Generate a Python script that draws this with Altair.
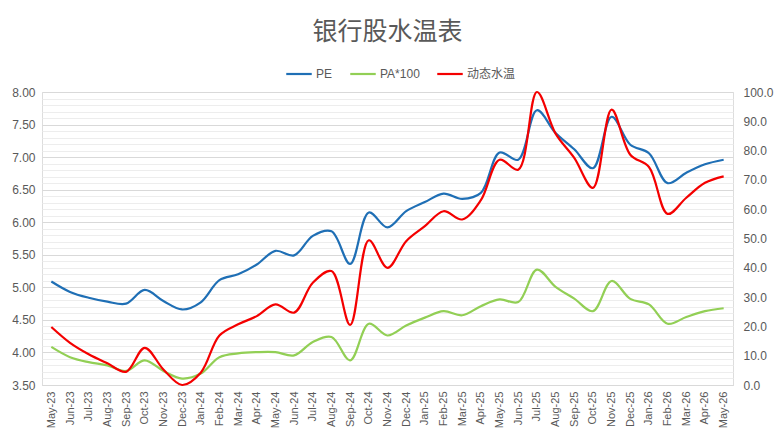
import altair as alt
import pandas as pd

months = ["May-23", "Jun-23", "Jul-23", "Aug-23", "Sep-23", "Oct-23", "Nov-23", "Dec-23",
          "Jan-24", "Feb-24", "Mar-24", "Apr-24", "May-24", "Jun-24", "Jul-24", "Aug-24",
          "Sep-24", "Oct-24", "Nov-24", "Dec-24", "Jan-25", "Feb-25", "Mar-25", "Apr-25",
          "May-25", "Jun-25", "Jul-25", "Aug-25", "Sep-25", "Oct-25", "Nov-25", "Dec-25",
          "Jan-26", "Feb-26", "Mar-26", "Apr-26", "May-26"]

pe = [5.09, 4.93, 4.84, 4.78, 4.75, 4.96, 4.79, 4.66,
      4.77, 5.11, 5.20, 5.35, 5.56, 5.49, 5.79, 5.86,
      5.36, 6.15, 5.92, 6.17, 6.31, 6.44, 6.36, 6.45,
      7.07, 6.96, 7.72, 7.37, 7.12, 6.83, 7.62, 7.19,
      7.06, 6.60, 6.76, 6.89, 6.96]

pa100 = [13.0, 9.5, 7.8, 6.7, 4.8, 8.4, 4.8, 2.2,
         3.9, 9.5, 10.8, 11.2, 11.2, 10.1, 14.7, 16.4,
         8.4, 20.9, 16.9, 20.3, 23.0, 25.2, 23.8, 26.9,
         29.2, 28.3, 39.4, 33.5, 29.5, 25.2, 35.5, 29.4,
         27.5, 20.9, 23.2, 25.2, 26.2]

water = [19.8, 14.4, 10.5, 7.4, 4.5, 12.7, 5.3, 0.0,
         4.2, 16.9, 20.7, 23.5, 27.5, 24.7, 34.9, 38.9,
         20.5, 49.4, 40.0, 49.1, 54.2, 59.3, 56.5, 63.1,
         76.9, 73.5, 100.0, 85.8, 77.5, 67.3, 94.0, 78.6,
         74.4, 58.4, 63.9, 69.0, 71.2]

series_names = ["PE", "PA*100", "动态水温"]
series_colors = ["#1f6fb5", "#92cf55", "#f40000"]
series_widths = [2.2, 2.2, 4.0]

left_ticks = [round(3.5 + 0.1 * i, 1) for i in range(46)]
right_ticks = [10 * i for i in range(11)]

rows = []
for i, m in enumerate(months):
    rows.append({"month": m, "series": "PE", "value": pe[i]})
    rows.append({"month": m, "series": "PA*100", "value": pa100[i]})
    rows.append({"month": m, "series": "动态水温", "value": water[i]})
df = pd.DataFrame(rows)

FONT = "Liberation Sans, Noto Sans CJK SC"
GREY = "#595959"


def make_legend():
    return alt.Legend(
        orient="none", legendX=243, legendY=-32, direction="horizontal",
        symbolType="stroke", symbolSize=650, labelFontSize=12, labelColor=GREY,
        labelFont=FONT, columnPadding=12, labelOffset=3,
    )


color = alt.Color(
    "series:N",
    scale=alt.Scale(domain=series_names, range=series_colors),
    title=None,
    legend=make_legend(),
)
width_enc = alt.StrokeWidth(
    "series:N",
    scale=alt.Scale(domain=series_names, range=series_widths),
    title=None,
    legend=make_legend(),
)

x_enc = alt.X(
    "month:O", sort=months, title=None,
    scale=alt.Scale(type="point", padding=0.5),
    axis=alt.Axis(labelAngle=-90, labelFontSize=11, labelColor=GREY, labelFont=FONT,
                  ticks=False, domain=True, domainColor="#d9d9d9", labelPadding=6,
                  grid=False),
)

base = alt.Chart(df).encode(x=x_enc, color=color, strokeWidth=width_enc)

pe_layer = base.transform_filter("datum.series == 'PE'").mark_line(
    interpolate="catmull-rom"
).encode(
    y=alt.Y("value:Q", title=None,
            scale=alt.Scale(domain=[3.5, 8.0], nice=False, zero=False),
            axis=alt.Axis(orient="left", values=left_ticks, ticks=False, domain=False,
                          labelExpr="abs(datum.value*2 - round(datum.value*2)) < 0.001 ? format(datum.value, '.2f') : ''",
                          labelFontSize=12, labelColor=GREY, labelFont=FONT, labelPadding=7,
                          grid=True,
                          gridColor={"condition": {"test": "abs(datum.value*2 - round(datum.value*2)) < 0.001",
                                                   "value": "#d9d9d9"},
                                     "value": "#ededed"},
                          gridWidth=1))
)

pa_layer = base.transform_filter("datum.series == 'PA*100'").mark_line(
    interpolate="catmull-rom"
).encode(
    y=alt.Y("value:Q", title=None,
            scale=alt.Scale(domain=[0, 100], nice=False),
            axis=alt.Axis(orient="right", values=right_ticks, format=".1f", ticks=False,
                          domain=False, grid=False, labelFontSize=12, labelColor=GREY,
                          labelFont=FONT, labelPadding=10))
)

water_layer = base.transform_filter("datum.series == '动态水温'").mark_line(
    interpolate="catmull-rom"
).encode(
    y=alt.Y("value:Q", title=None,
            scale=alt.Scale(domain=[0, 100], nice=False),
            axis=None)
)

chart = alt.layer(pe_layer, pa_layer, water_layer).resolve_scale(
    y="independent"
).properties(
    width=691, height=293,
    title=alt.TitleParams("银行股水温表", fontSize=25, font="Noto Sans CJK SC",
                          fontWeight="normal", color=GREY, anchor="middle", offset=15),
    autosize=alt.AutoSizeParams(type="none"),
    padding={"left": 34, "top": 84, "right": 42, "bottom": 51},
).configure_view(stroke=None).configure(background="white")

chart.save("out.html", embed_options={"renderer": "svg", "actions": False})
